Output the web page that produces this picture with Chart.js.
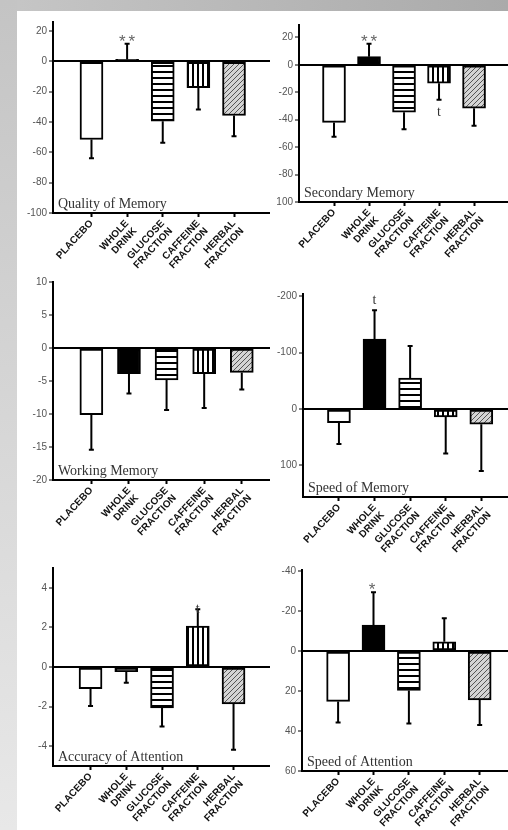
<!DOCTYPE html>
<html>
<head>
<meta charset="utf-8">
<script src="https://cdn.jsdelivr.net/npm/chart.js@4.4.1/dist/chart.umd.min.js"></script>
<style>
html, body { margin: 0; padding: 0; }
body { width: 508px; height: 830px; position: relative; background: #fff; overflow: hidden; }
#topBand { position: absolute; left: 0; top: 0; width: 508px; height: 11px; background: linear-gradient(to right, #c6c6c6, #aaaaaa); }
#leftBand { position: absolute; left: 0; top: 0; width: 17px; height: 830px; background: linear-gradient(to bottom, #c4c4c4, #e8e8e8); }
canvas { position: absolute; }
</style>
</head>
<body>
<div id="topBand"></div>
<div id="leftBand"></div>
<script>
const categoryLabels = ["PLACEBO", ["WHOLE", "DRINK"], ["GLUCOSE", "FRACTION"], ["CAFFEINE", "FRACTION"], ["HERBAL", "FRACTION"]];

// Quality of Memory
const qualityMeans = [-51.5, 1.3, -39.4, -17.4, -35.7];
const qualitySem = [12.4, 10.4, 14.3, 14.3, 13.6];
const qualityMarks = ["", "**", "", "", ""];
const qualityTicks = [-100, -80, -60, -40, -20, 0, 20];
const qualityTickLabels = ["-100", "-80", "-60", "-40", "-20", "0", "20"];

// Secondary Memory
const secondaryMeans = [-42, 5.9, -34.6, -13.4, -31.7];
const secondarySem = [10.5, 9.5, 12.3, 12, 12.7];
const secondaryMarks = ["", "**", "", "t", ""];
const secondaryTicks = [-100, -80, -60, -40, -20, 0, 20];
const secondaryTickLabels = ["100", "-80", "-60", "-40", "-20", "0", "20"];

// Working Memory
const workingMeans = [-10.1, -3.9, -4.85, -3.9, -3.7];
const workingSem = [5.3, 3.0, 4.55, 5.2, 2.6];
const workingMarks = ["", "", "", "", ""];
const workingTicks = [-20, -15, -10, -5, 0, 5, 10];
const workingTickLabels = ["-20", "-15", "-10", "-5", "0", "5", "10"];

// Speed of Memory
const speedMemMeans = [24, -124, -55, 14, 27];
const speedMemSem = [38, 51, 57, 65, 83];
const speedMemMarks = ["", "t", "", "", ""];
const speedMemTicks = [-200, -100, 0, 100];
const speedMemTickLabels = ["-200", "-100", "0", "100"];

// Accuracy of Attention
const accuracyMeans = [-1.1, -0.24, -2.07, 2.07, -1.87];
const accuracySem = [0.87, 0.56, 0.93, 0.85, 2.31];
const accuracyMarks = ["", "", "", "t", ""];
const accuracyTicks = [-4, -2, 0, 2, 4];
const accuracyTickLabels = ["-4", "-2", "0", "2", "4"];

// Speed of Attention
const speedAttMeans = [25.2, -12.9, 19.7, -4.6, 24.4];
const speedAttSem = [10.6, 16.5, 16.6, 11.8, 12.6];
const speedAttMarks = ["", "*", "", "", ""];
const speedAttTicks = [-40, -20, 0, 20, 40, 60];
const speedAttTickLabels = ["-40", "-20", "0", "20", "40", "60"];

const panelTitles = ["Quality of Memory", "Secondary Memory", "Working Memory", "Speed of Memory", "Accuracy of Attention", "Speed of Attention"];

function makePattern(kind) {
	const c = document.createElement("canvas");
	const g = c.getContext("2d");
	if (kind === "horizontal") {
		c.width = 6; c.height = 6;
		g.fillStyle = "#fff"; g.fillRect(0, 0, 6, 6);
		g.fillStyle = "#000"; g.fillRect(0, 0, 6, 2);
	} else if (kind === "vertical") {
		c.width = 5; c.height = 5;
		g.fillStyle = "#fff"; g.fillRect(0, 0, 5, 5);
		g.fillStyle = "#000"; g.fillRect(0, 0, 2, 5);
	} else {
		c.width = 5; c.height = 5;
		g.fillStyle = "#d4d4d4"; g.fillRect(0, 0, 5, 5);
		g.strokeStyle = "#555"; g.lineWidth = 1;
		g.beginPath();
		g.moveTo(-1, 6); g.lineTo(6, -1);
		g.moveTo(-1, 1); g.lineTo(1, -1);
		g.moveTo(4, 6); g.lineTo(6, 4);
		g.stroke();
	}
	return g.createPattern(c, "repeat");
}

const barFills = ["#ffffff", "#000000", makePattern("horizontal"), makePattern("vertical"), makePattern("diagonal")];

const panels = [
	{ title: panelTitles[0], means: qualityMeans, sem: qualitySem, marks: qualityMarks, ticks: qualityTicks, tickLabels: qualityTickLabels,
		yMin: -100, yMax: 26, reverse: false, box: [17, 11, 253, 269], area: [53, 22, 270, 213], xRange: [-1.08, 5.01], markShift: { 1: 3 } },
	{ title: panelTitles[1], means: secondaryMeans, sem: secondarySem, marks: secondaryMarks, ticks: secondaryTicks, tickLabels: secondaryTickLabels,
		yMin: -100, yMax: 29, reverse: false, box: [262, 11, 246, 269], area: [299, 25, 508, 202], xRange: [-1.0, 4.97], markShift: { 1: 3, 3: 16 } },
	{ title: panelTitles[2], means: workingMeans, sem: workingSem, marks: workingMarks, ticks: workingTicks, tickLabels: workingTickLabels,
		yMin: -20, yMax: 10, reverse: false, box: [17, 272, 253, 283], area: [53, 282, 270, 480], xRange: [-1.02, 4.75], markShift: {} },
	{ title: panelTitles[3], means: speedMemMeans, sem: speedMemSem, marks: speedMemMarks, ticks: speedMemTicks, tickLabels: speedMemTickLabels,
		yMin: -204, yMax: 156, reverse: true, box: [262, 280, 246, 280], area: [303, 294, 508, 497], xRange: [-1.01, 4.75], markShift: { 1: -6 } },
	{ title: panelTitles[4], means: accuracyMeans, sem: accuracySem, marks: accuracyMarks, ticks: accuracyTicks, tickLabels: accuracyTickLabels,
		yMin: -5, yMax: 5, reverse: false, box: [17, 555, 253, 275], area: [53, 568, 270, 766], xRange: [-1.05, 5.02], markShift: { 3: 4 } },
	{ title: panelTitles[5], means: speedAttMeans, sem: speedAttSem, marks: speedAttMarks, ticks: speedAttTicks, tickLabels: speedAttTickLabels,
		yMin: -40.5, yMax: 60, reverse: true, box: [262, 555, 246, 275], area: [302, 570, 508, 771], xRange: [-1.02, 4.8], markShift: { 1: 3 } },
];

function buildPanel(p) {
	const [bx, by, bw, bh] = p.box;
	const canvas = document.createElement("canvas");
	canvas.width = bw;
	canvas.height = bh;
	canvas.style.left = bx + "px";
	canvas.style.top = by + "px";
	canvas.style.width = bw + "px";
	canvas.style.height = bh + "px";
	document.body.appendChild(canvas);

	const extras = {
		id: "extras",
		afterDatasetsDraw(chart) {
			const ctx = chart.ctx;
			const yScale = chart.scales.y;
			const area = chart.chartArea;
			const meta = chart.getDatasetMeta(0);
			ctx.save();
			ctx.strokeStyle = "#000";
			ctx.lineWidth = 2;
			meta.data.forEach((bar, i) => {
				const v = p.means[i];
				const dir = v < 0 ? -1 : 1;
				const y0 = yScale.getPixelForValue(v);
				const y1 = yScale.getPixelForValue(v + dir * p.sem[i]);
				ctx.beginPath();
				ctx.moveTo(bar.x, y0);
				ctx.lineTo(bar.x, y1);
				ctx.moveTo(bar.x - 2.5, y1);
				ctx.lineTo(bar.x + 2.5, y1);
				ctx.stroke();

				const mark = p.marks[i];
				if (mark) {
					ctx.textAlign = "center";
					ctx.textBaseline = "alphabetic";
					if (mark.includes("*")) {
						ctx.font = "17px 'Liberation Sans'";
						ctx.fillStyle = "#666";
						ctx.letterSpacing = "3px";
					} else {
						ctx.font = "14px 'Liberation Serif'";
						ctx.fillStyle = "#333";
						ctx.letterSpacing = "0px";
					}
					ctx.fillText(mark, bar.x + (mark.length > 1 ? 1.5 : 0), y1 + (p.markShift[i] || 0));
					ctx.letterSpacing = "0px";
				}
			});
			ctx.font = "14px 'Liberation Serif'";
			ctx.fillStyle = "#333";
			ctx.textAlign = "left";
			ctx.textBaseline = "alphabetic";
			ctx.fillText(p.title, area.left + 5, area.bottom - 5);
			ctx.restore();
		},
	};

	new Chart(canvas, {
		type: "bar",
		data: {
			datasets: [
				{
					data: p.means.map((v, i) => ({ x: i, y: v })),
					backgroundColor: barFills,
					borderColor: "#000",
					borderWidth: 2,
					borderSkipped: false,
					barThickness: 23,
				},
			],
		},
		options: {
			responsive: false,
			animation: false,
			events: [],
			layout: { padding: { top: p.area[1] - by, right: bx + bw - p.area[2], left: 0, bottom: 0 } },
			plugins: { legend: { display: false }, tooltip: { enabled: false } },
			scales: {
				x: {
					type: "linear",
					offset: false,
					min: p.xRange[0],
					max: p.xRange[1],
					afterBuildTicks: (s) => { s.ticks = categoryLabels.map((_, i) => ({ value: i })); },
					afterFit: (s) => { s.height = by + bh - p.area[3]; },
					grid: { offset: false, drawOnChartArea: false, tickLength: 4, tickColor: "#000", tickWidth: 2 },
					border: { color: "#000", width: 2 },
					ticks: {
						autoSkip: false,
						minRotation: 47,
						maxRotation: 47,
						padding: 1,
						color: "#111",
						font: { family: "'Liberation Sans'", size: 10, weight: "bold", lineHeight: 1.1 },
						callback: (v) => categoryLabels[v],
					},
				},
				y: {
					min: p.yMin,
					max: p.yMax,
					reverse: p.reverse,
					afterBuildTicks: (s) => { s.ticks = p.ticks.map((v) => ({ value: v })); },
					afterFit: (s) => { s.width = p.area[0] - bx; },
					grid: {
						color: (c) => (c.tick && c.tick.value === 0 ? "#000" : "rgba(0,0,0,0)"),
						lineWidth: 2,
						tickColor: "#000",
						tickLength: 4,
						tickWidth: 1,
					},
					border: { color: "#000", width: 2 },
					ticks: {
						color: "#555",
						padding: 2,
						font: { family: "'Liberation Sans'", size: 10 },
						callback: (v, i) => p.tickLabels[i],
					},
				},
			},
		},
		plugins: [extras],
	});
}

panels.forEach(buildPanel);
</script>
</body>
</html>
